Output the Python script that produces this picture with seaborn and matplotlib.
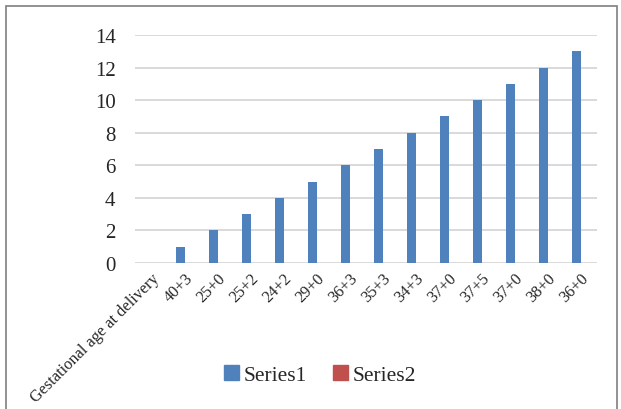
import matplotlib
matplotlib.use("Agg")
import matplotlib.pyplot as plt
import seaborn as sns
import pandas as pd
from matplotlib.patches import Rectangle

categories = ["Gestational age at delivery", "40+3", "25+0", "25+2", "24+2", "29+0",
              "36+3", "35+3", "34+3", "37+0", "37+5", "37+0", "38+0", "36+0"]
series1 = [0, 1, 2, 3, 4, 5, 6, 7, 8, 9, 10, 11, 12, 13]
series2 = [0, 0, 0, 0, 0, 0, 0, 0, 0, 0, 0, 0, 0, 0]
series_names = ["Series1", "Series2"]
colors = ["#4F81BD", "#C0504D"]

sns.set_theme(style="white")
plt.rcParams["font.family"] = ["Liberation Serif", "DejaVu Serif"]

rows = []
for i, c in enumerate(categories):
    rows.append({"pos": i, "cat": c, "series": series_names[0], "value": series1[i]})
    rows.append({"pos": i, "cat": c, "series": series_names[1], "value": series2[i]})
df = pd.DataFrame(rows)

fig = plt.figure(figsize=(6.21, 4.10), dpi=100)
ax = fig.add_axes([135/621, 1-264/410, (597-135)/621, (264-36)/410])

sns.barplot(data=df, x="pos", y="value", hue="series", palette=colors,
            width=0.5, gap=0, linewidth=0, ax=ax, legend=False, errorbar=None,
            saturation=1)

ax.set_ylim(0, 14)
ax.set_xlim(-0.5, len(categories) - 0.5)
ax.set_yticks(range(0, 15, 2))
ax.set_yticklabels([str(v) for v in range(0, 15, 2)], fontsize=15)
ax.set_xticks(range(len(categories)))
ax.set_xticklabels(categories, fontsize=11.7, rotation=45, ha="right", va="top",
                   rotation_mode="anchor")
ax.tick_params(axis="y", length=0, pad=14)
ax.tick_params(axis="x", length=0, pad=5)
ax.set_xlabel("")
ax.set_ylabel("")
for s in ax.spines.values():
    s.set_visible(False)
ax.yaxis.grid(True, color="#D9D9D9", linewidth=1.4)
ax.set_axisbelow(True)

handles = [Rectangle((0, 0), 1, 1, color=c) for c in colors]
fig.legend(handles, series_names, loc="center", bbox_to_anchor=(320/621, 1-376/410),
           ncol=2, frameon=False, fontsize=15.5, handlelength=0.7, handleheight=0.7,
           handletextpad=0.2, columnspacing=1.2)

fig.patches.append(Rectangle((6/621, -0.01), (617-6)/621, 1 - 7/410 + 0.01,
                             transform=fig.transFigure, fill=False,
                             edgecolor="#7F7F7F", linewidth=1.2))

fig.savefig("out.png", dpi=100)
